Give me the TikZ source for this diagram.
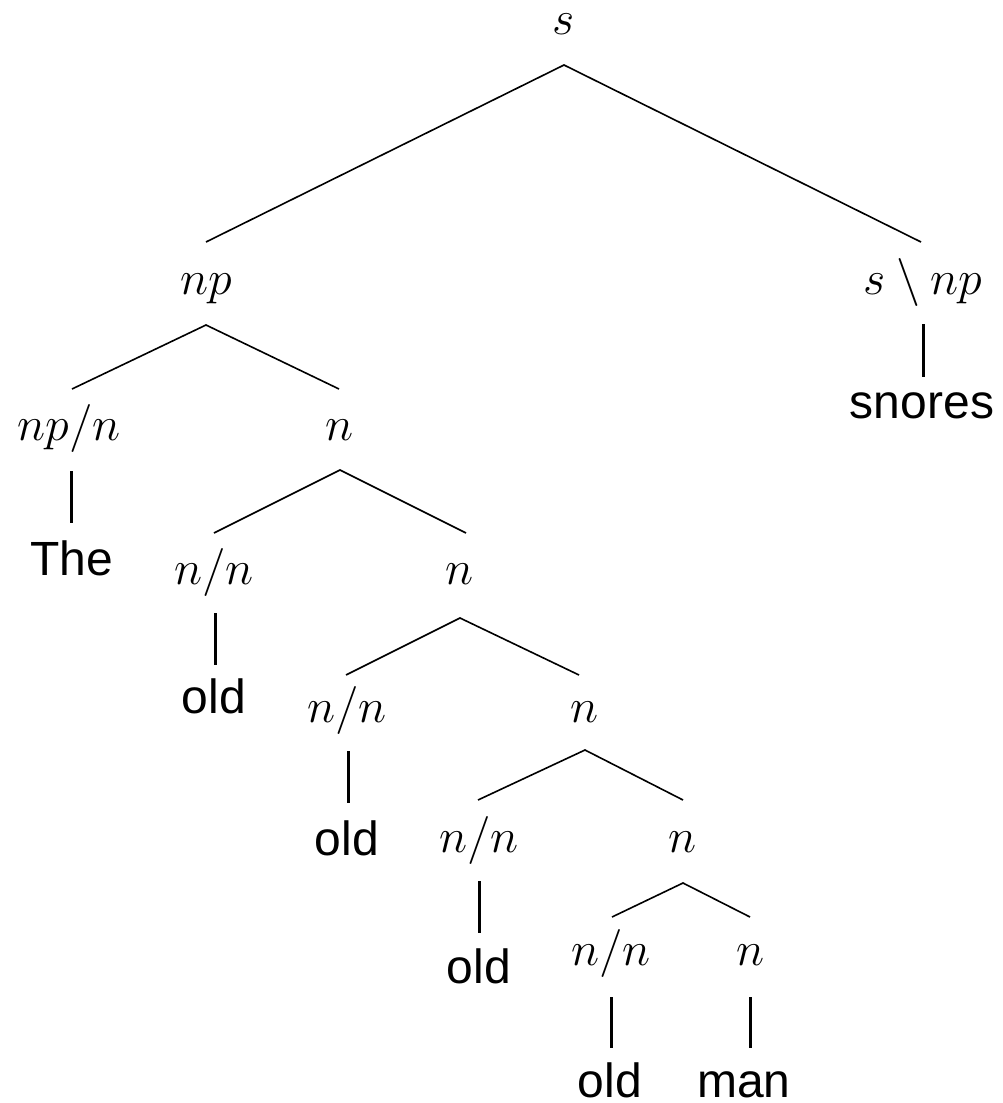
\documentclass[tikz,border=0pt]{standalone}
\usepackage{fontspec}
\newfontfamily\wordfont{Liberation Sans}
\begin{document}
\begin{tikzpicture}[x=0.25pt,y=-0.25pt,
  cat/.style={anchor=base,inner sep=0pt,font=\fontsize{12}{14}\selectfont},
  word/.style={anchor=base,inner sep=0pt,font=\fontsize{12}{14}\selectfont\wordfont},
  branch/.style={line width=0.4pt},
  leaf/.style={line width=0.75pt}]
\useasboundingbox (0,0) rectangle (1003,1103);
% categories
\node[cat] (s) at (564,35) {$s$};
\node[cat] (np) at (206,294) {$np$};
\node[cat] (snp) at (923,294) {$s\setminus np$};
\node[cat] (npn) at (69,440) {$np/n$};
\node[cat] (n1) at (340,440) {$n$};
\node[cat] (nn1) at (214,584) {$n/n$};
\node[cat] (n2) at (460,584) {$n$};
\node[cat] (nn2) at (347,722) {$n/n$};
\node[cat] (n3) at (585,722) {$n$};
\node[cat] (nn3) at (479,852) {$n/n$};
\node[cat] (n4) at (683,852) {$n$};
\node[cat] (nn4) at (611,965) {$n/n$};
\node[cat] (n5) at (751,965) {$n$};
% words
\node[word] (the) at (72,575) {The};
\node[word] (snores) at (922,418) {snores};
\node[word] (old1) at (214,713) {old};
\node[word] (old2) at (347,855) {old};
\node[word] (old3) at (479,983) {old};
\node[word] (old4) at (610,1097) {old};
\node[word] (man) at (744,1097) {man};
% connector ends
\coordinate (sA) at (564,65);
\coordinate (npT) at (206,242);
\coordinate (snpT) at (921,242);
\coordinate (npA) at (206,325);
\coordinate (npnT) at (72,389);
\coordinate (n1T) at (339,389);
\coordinate (n1A) at (340,470);
\coordinate (nn1T) at (214,533);
\coordinate (n2T) at (466,533);
\coordinate (n2A) at (460,618);
\coordinate (nn2T) at (346,675);
\coordinate (n3T) at (579,675);
\coordinate (n3A) at (585,750);
\coordinate (nn3T) at (478,800);
\coordinate (n4T) at (683,800);
\coordinate (n4A) at (683,883);
\coordinate (nn4T) at (612,917);
\coordinate (n5T) at (750,917);
\draw[branch] (npT) -- (sA) -- (snpT);
\draw[branch] (npnT) -- (npA) -- (n1T);
\draw[branch] (nn1T) -- (n1A) -- (n2T);
\draw[branch] (nn2T) -- (n2A) -- (n3T);
\draw[branch] (nn3T) -- (n3A) -- (n4T);
\draw[branch] (nn4T) -- (n4A) -- (n5T);
% leaf lines
\coordinate (npnB) at (71,471); \coordinate (theT) at (71,523);
\coordinate (snpB) at (923,324); \coordinate (snoresT) at (923,377);
\coordinate (nn1B) at (215,613); \coordinate (old1T) at (215,665);
\coordinate (nn2B) at (348,751); \coordinate (old2T) at (348,803);
\coordinate (nn3B) at (479,881); \coordinate (old3T) at (479,933);
\coordinate (nn4B) at (611,997); \coordinate (old4T) at (611,1048);
\coordinate (n5B) at (750,997); \coordinate (manT) at (750,1048);
\draw[leaf] (npnB) -- (theT);
\draw[leaf] (snpB) -- (snoresT);
\draw[leaf] (nn1B) -- (old1T);
\draw[leaf] (nn2B) -- (old2T);
\draw[leaf] (nn3B) -- (old3T);
\draw[leaf] (nn4B) -- (old4T);
\draw[leaf] (n5B) -- (manT);
\end{tikzpicture}
\end{document}
